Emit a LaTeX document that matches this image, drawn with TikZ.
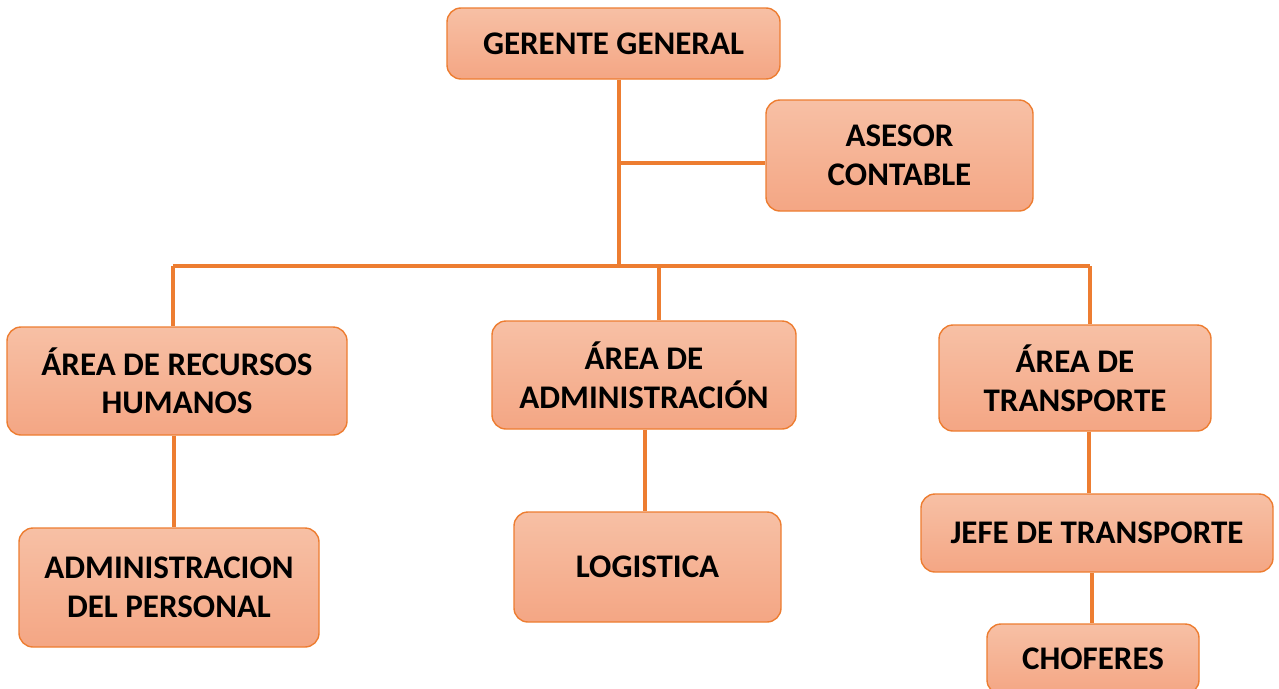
\documentclass[tikz,border=0pt]{standalone}
\usepackage{fontspec}
\setmainfont{Carlito}
\usetikzlibrary{backgrounds}
\definecolor{orline}{RGB}{237,125,49}
\definecolor{ftop}{RGB}{247,192,165}
\definecolor{fbot}{RGB}{244,166,132}
\tikzset{
  box/.style={draw=orline, line width=1.4pt, rounded corners=14pt,
    top color=ftop, bottom color=fbot, align=center, inner sep=0pt,
    font=\fontsize{33}{38.5}\selectfont\bfseries},
  conn/.style={draw=orline, line width=3.6pt},
}
\begin{document}
\begin{tikzpicture}[x=1pt,y=1pt]
\clip (0,0) rectangle (1279,-688);
\useasboundingbox (0,0) rectangle (1279,-688);
\node[box, minimum width=333pt, minimum height=71pt] (g) at (613.5,-43.5) {GERENTE GENERAL};
\node[box, minimum width=267pt, minimum height=111pt] (ac) at (899.5,-155.5) {ASESOR\\CONTABLE};
\node[box, minimum width=340pt, minimum height=108pt] (rh) at (177,-381) {ÁREA DE RECURSOS\\HUMANOS};
\node[box, minimum width=304pt, minimum height=108pt] (ad) at (644,-375) {ÁREA DE\\ADMINISTRACIÓN};
\node[box, minimum width=272pt, minimum height=106pt] (tr) at (1075,-378) {ÁREA DE\\TRANSPORTE};
\node[box, minimum width=300pt, minimum height=119pt] (pe) at (169,-587.5) {ADMINISTRACION\\DEL PERSONAL};
\node[box, minimum width=267pt, minimum height=110pt] (lo) at (647.5,-567) {LOGISTICA};
\node[box, minimum width=352pt, minimum height=78pt] (je) at (1097,-533) {JEFE DE TRANSPORTE};
\node[box, minimum width=212pt, minimum height=70pt] (ch) at (1093,-659) {CHOFERES};
\coordinate (trunk) at (619,-266);
\coordinate (side) at (619,-163);
\coordinate (barL) at (173,-266);
\coordinate (barM) at (659,-266);
\coordinate (barR) at (1090,-266);
\begin{scope}[on background layer]
\draw[conn] (trunk |- g.south) -- (trunk);
\draw[conn] (side) -- (side -| ac.west);
\draw[conn] (barL) -- (barR);
\draw[conn] (barL) -- (barL |- rh.north);
\draw[conn] (barM) -- (barM |- ad.north);
\draw[conn] (barR) -- (barR |- tr.north);
\draw[conn] ([xshift=-3pt]rh.south) -- ([xshift=5pt]pe.north);
\draw[conn] ([xshift=1pt]ad.south) -- ([xshift=-2.5pt]lo.north);
\draw[conn] ([xshift=14pt]tr.south) -- ([xshift=-8pt]je.north);
\draw[conn] ([xshift=-5pt]je.south) -- ([xshift=-1pt]ch.north);
\end{scope}
\end{tikzpicture}
\end{document}
